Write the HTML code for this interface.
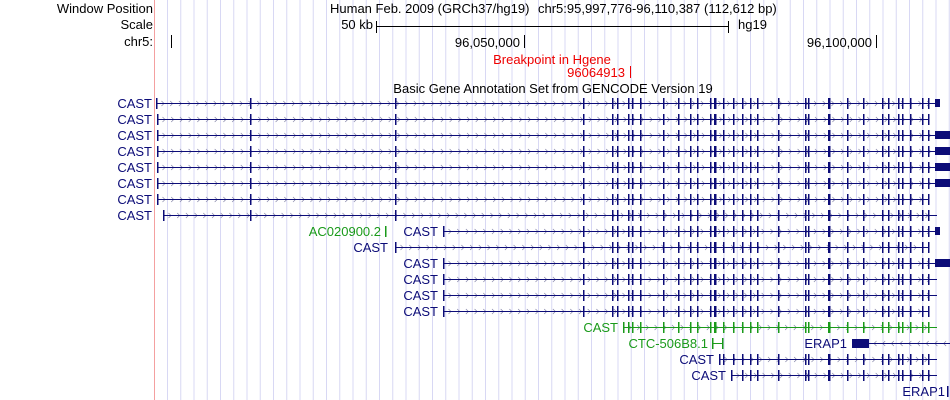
<!DOCTYPE html>
<html><head><meta charset="utf-8"><style>
body{margin:0;background:#fff;width:950px;height:400px;overflow:hidden}
svg{display:block;font-family:"Liberation Sans",sans-serif;font-size:13px}
.b{fill:#0c0c78}.g{fill:#1a9a1a}.k{fill:#000}.r{fill:#e00}
</style></head><body>
<svg id="s" width="950" height="400" viewBox="0 0 950 400">
<g id="grid"></g>
<line x1="154.5" y1="0" x2="154.5" y2="400" stroke="#f4a0a0"/>
<text x="153" y="13" text-anchor="end" class="k">Window Position</text>
<text x="153" y="29" text-anchor="end" class="k">Scale</text>
<text x="153" y="46" text-anchor="end" class="k">chr5:</text>
<text x="330" y="13" class="k">Human Feb. 2009 (GRCh37/hg19)</text>
<text x="538" y="13" class="k">chr5:95,997,776-96,110,387 (112,612 bp)</text>
<text x="373" y="29" text-anchor="end" class="k">50 kb</text>
<line x1="376.5" y1="21" x2="376.5" y2="33" stroke="#000"/>
<line x1="376" y1="26.5" x2="729" y2="26.5" stroke="#000"/>
<line x1="728.5" y1="21" x2="728.5" y2="33" stroke="#000"/>
<text x="738" y="29" class="k">hg19</text>
<line x1="171.5" y1="35" x2="171.5" y2="48" stroke="#000"/>
<text x="520" y="47" text-anchor="end" class="k">96,050,000</text>
<line x1="524.5" y1="35" x2="524.5" y2="48" stroke="#000"/>
<text x="872" y="47" text-anchor="end" class="k">96,100,000</text>
<line x1="876.5" y1="35" x2="876.5" y2="48" stroke="#000"/>
<text x="552" y="64" text-anchor="middle" class="r">Breakpoint in Hgene</text>
<text x="625" y="77" text-anchor="end" class="r">96064913</text>
<line x1="630.5" y1="66" x2="630.5" y2="78" stroke="#e00"/>
<text x="553" y="93" text-anchor="middle" class="k">Basic Gene Annotation Set from GENCODE Version 19</text>
<g id="tracks"></g>
<text x="152" y="108" text-anchor="end" class="b">CAST</text>
<text x="152" y="124" text-anchor="end" class="b">CAST</text>
<text x="152" y="140" text-anchor="end" class="b">CAST</text>
<text x="152" y="156" text-anchor="end" class="b">CAST</text>
<text x="152" y="172" text-anchor="end" class="b">CAST</text>
<text x="152" y="188" text-anchor="end" class="b">CAST</text>
<text x="152" y="204" text-anchor="end" class="b">CAST</text>
<text x="152" y="220" text-anchor="end" class="b">CAST</text>
<text x="381" y="236" text-anchor="end" class="g">AC020900.2</text>
<text x="438" y="236" text-anchor="end" class="b">CAST</text>
<text x="388" y="252" text-anchor="end" class="b">CAST</text>
<text x="438" y="268" text-anchor="end" class="b">CAST</text>
<text x="438" y="284" text-anchor="end" class="b">CAST</text>
<text x="438" y="300" text-anchor="end" class="b">CAST</text>
<text x="438" y="316" text-anchor="end" class="b">CAST</text>
<text x="618" y="332" text-anchor="end" class="g">CAST</text>
<text x="708" y="348" text-anchor="end" class="g">CTC-506B8.1</text>
<text x="847" y="348" text-anchor="end" class="b">ERAP1</text>
<text x="714" y="364" text-anchor="end" class="b">CAST</text>
<text x="726" y="380" text-anchor="end" class="b">CAST</text>
<text x="945" y="396" text-anchor="end" class="b">ERAP1</text>
</svg>
<script>
var NS="http://www.w3.org/2000/svg";
function el(p,t,a){var e=document.createElementNS(NS,t);for(var k in a)e.setAttribute(k,a[k]);p.appendChild(e);return e;}
var G=document.getElementById("grid");
for(var x=167.5;x<950;x+=13.25)el(G,"line",{x1:x,y1:0,x2:x,y2:400,stroke:"#d8d8f4"});
var T=document.getElementById("tracks");
var ex=[250,395,583,612,617,628,632,640,663,678,690,697,710,714,723,733,742,750,757,778,805,808,828,847,863,882,888,898,902,910,922,928];
function track(y,x0,x1,col,box){
 for(var a=x0+8;a<x1-4;a+=8.7){el(T,"path",{d:"M"+(a-2.5)+" "+(y-2)+"L"+a+" "+(y+.5)+"L"+(a-2.5)+" "+(y+3),stroke:"#8888aa",fill:"none","stroke-width":"0.7"});}
 el(T,"line",{x1:x0,y1:y+.5,x2:x1,y2:y+.5,stroke:col});
 el(T,"rect",{x:x0,y:y-5,width:1.5,height:11,fill:col});
 ex.forEach(function(e){if(e>x0+2&&e<=x1){var w=(e==714||e==828)?2.5:1.5;el(T,"rect",{x:e,y:y-5,width:w,height:11,fill:col});}});
 if(box)el(T,"rect",{x:935,y:y-4,width:box==2?15:5,height:8,fill:col});
}
var B="#0c0c78",Gr="#1a9a1a";
track(103,156,937,B,1);
track(119,157,928,B);
track(135,157,935,B,2);
track(151,157,935,B,2);
track(167,157,935,B,2);
track(183,157,935,B,2);
track(199,157,928,B);
track(215,163,937,B);
el(T,"rect",{x:385,y:226,width:1.5,height:11,fill:Gr});
track(231,443,935,B,1);
track(247,395,928,B);
track(263,443,935,B,2);
track(279,443,937,B);
track(295,443,937,B);
track(311,443,928,B);
track(327,623,937,Gr);
el(T,"line",{x1:712,y1:343.5,x2:723,y2:343.5,stroke:Gr});
el(T,"rect",{x:712,y:338,width:1.5,height:11,fill:Gr});el(T,"rect",{x:722,y:338,width:1.5,height:11,fill:Gr});
el(T,"rect",{x:852,y:339,width:17,height:9,fill:B});
for(var a=874;a<950;a+=8.7)el(T,"path",{d:"M"+(a+2.5)+" 341L"+a+" 343.5L"+(a+2.5)+" 346",stroke:"#8888aa",fill:"none","stroke-width":"0.7"});
el(T,"line",{x1:869,y1:343.5,x2:950,y2:343.5,stroke:B});
track(359,719,937,B);
track(375,731,937,B);
el(T,"rect",{x:947,y:386,width:1.5,height:11,fill:B});
</script>
</body></html>
